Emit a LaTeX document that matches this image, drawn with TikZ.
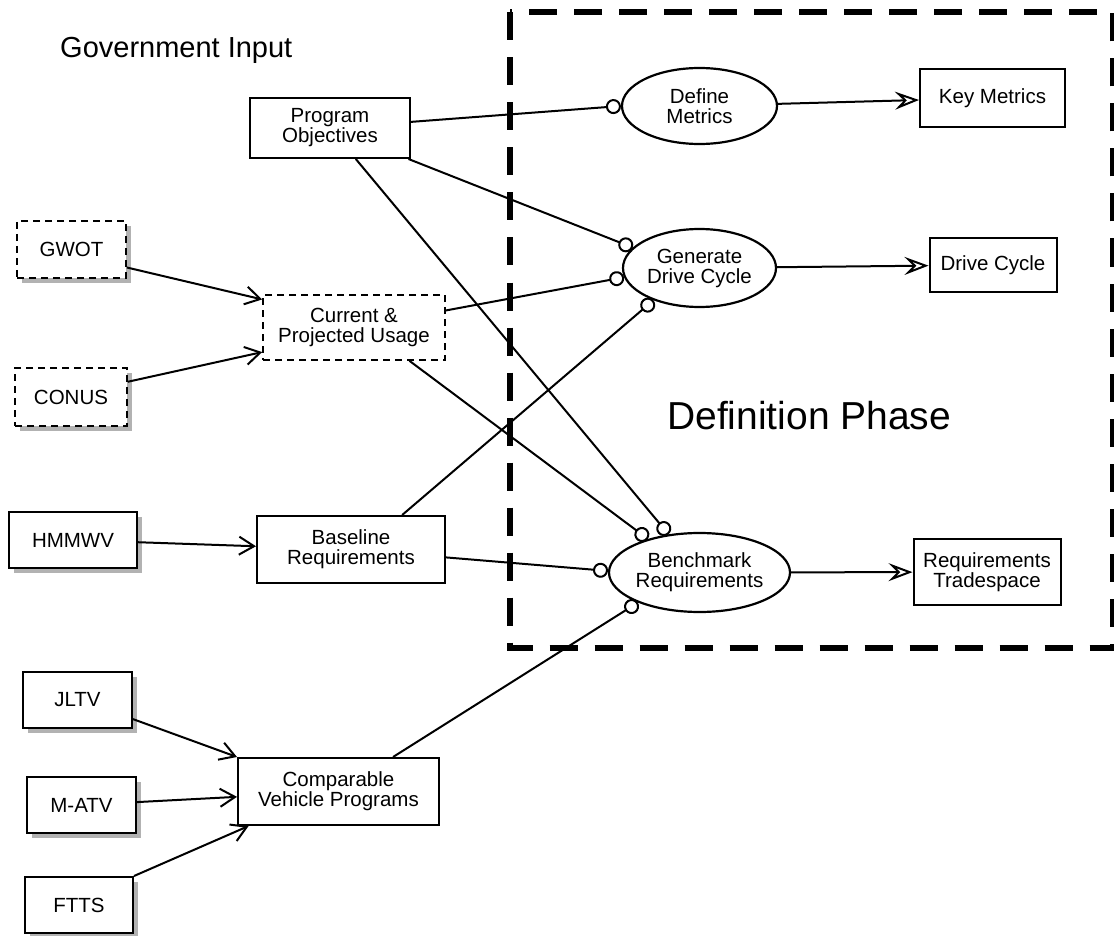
\documentclass[tikz,border=0pt]{standalone}
\usepackage{fontspec}
\setmainfont{Liberation Sans}
\usetikzlibrary{arrows.meta,shapes.geometric,shadows}

\begin{document}
\begin{tikzpicture}[x=1pt,y=-1pt,
  every node/.style={font=\fontsize{20.5}{20}\selectfont, align=center, inner sep=0pt},
  box/.style={rectangle, draw=black, line width=2pt, fill=white},
  srcbox/.style={box, drop shadow={shadow xshift=5pt, shadow yshift=-5pt, opacity=1, fill=black!30}},
  dashbox/.style={srcbox, dash pattern=on 7pt off 5pt, line width=1.6pt},
  proc/.style={ellipse, draw=black, line width=2.2pt, fill=white},
  link/.style={line width=2pt, -{Circle[open, length=15pt, line width=2pt]}},
  feed/.style={line width=2pt, -{Straight Barb[length=15pt, width=18pt, line width=2pt]}},
  yield/.style={line width=2pt, -{Stealth[open, length=24pt, width=18pt, inset=9pt, line width=2pt]}},
  phase/.style={line width=6pt, dash pattern=on 28pt off 17pt}]

\useasboundingbox (0,0) rectangle (1114,936);

% definition phase frame
\draw[phase] (510,12.5) rectangle (1113,648);

% titles
\node[font=\fontsize{29}{29}\selectfont, anchor=base west] (gov) at (60,58) {Government Input};
\node[font=\fontsize{39}{39}\selectfont, anchor=base west] (defphase) at (667,429) {Definition Phase};

% government inputs
\node[box, minimum width=160, minimum height=60] (po) at (330,128) {Program\\Objectives};
\node[dashbox, minimum width=109, minimum height=57] (gwot) at (71.5,249.5) {GWOT};
\node[dashbox, minimum width=112, minimum height=58] (conus) at (71,397) {CONUS};
\node[box, dash pattern=on 7pt off 5pt, line width=1.6pt, minimum width=182, minimum height=65] (usage) at (354,327.5) {Current \&\\Projected Usage};
\node[srcbox, minimum width=128, minimum height=56] (hmmwv) at (73,540) {HMMWV};
\node[box, minimum width=188, minimum height=67] (baseline) at (351,549.5) {Baseline\\Requirements};
\node[srcbox, minimum width=109, minimum height=56] (jltv) at (77.5,700) {JLTV};
\node[srcbox, minimum width=109, minimum height=56] (matv) at (81.5,805) {M-ATV};
\node[srcbox, minimum width=108, minimum height=56] (ftts) at (79,905) {FTTS};
\node[box, minimum width=201, minimum height=67] (cvp) at (338.5,791.5) {Comparable\\Vehicle Programs};

% processes
\node[proc, minimum width=155, minimum height=76] (dm) at (699.5,106) {Define\\Metrics};
\node[proc, minimum width=153, minimum height=78] (gen) at (699.5,268) {Generate\\Drive Cycle};
\node[proc, minimum width=181, minimum height=79] (bench) at (699.5,572.5) {Benchmark\\Requirements};

% outputs
\node[box, minimum width=145, minimum height=58] (km) at (992.5,98) {Key Metrics};
\node[box, minimum width=127, minimum height=54] (dc) at (993,265) {Drive Cycle};
\node[box, minimum width=147, minimum height=66] (rt) at (987,572) {Requirements\\Tradespace};

% inputs into processes
\draw[link] (po) -- (dm.west);
\draw[link] (po) -- (gen.163);
\draw[link] (po) -- (bench.129);
\draw[link] (usage) -- (gen.187);
\draw[link] (usage.-31) -- (bench.147);
\draw[link] (baseline.34) -- (gen.215);
\draw[link] (baseline) -- (bench.179);
\draw[link] (cvp) -- (bench.206);

% process outputs
\draw[yield] (dm) -- (km);
\draw[yield] (gen) -- (dc);
\draw[yield] (bench) -- (rt);

% feeding sources
\draw[feed] (gwot.-18) -- (usage.163);
\draw[feed] (conus.15) -- (usage.195);
\draw[feed] (hmmwv) -- (baseline);
\draw[feed] (jltv.-19) -- (cvp.north west);
\draw[feed] (matv) -- (cvp);
\draw[feed] (ftts.north east) -- (cvp.201);
\end{tikzpicture}
\end{document}
